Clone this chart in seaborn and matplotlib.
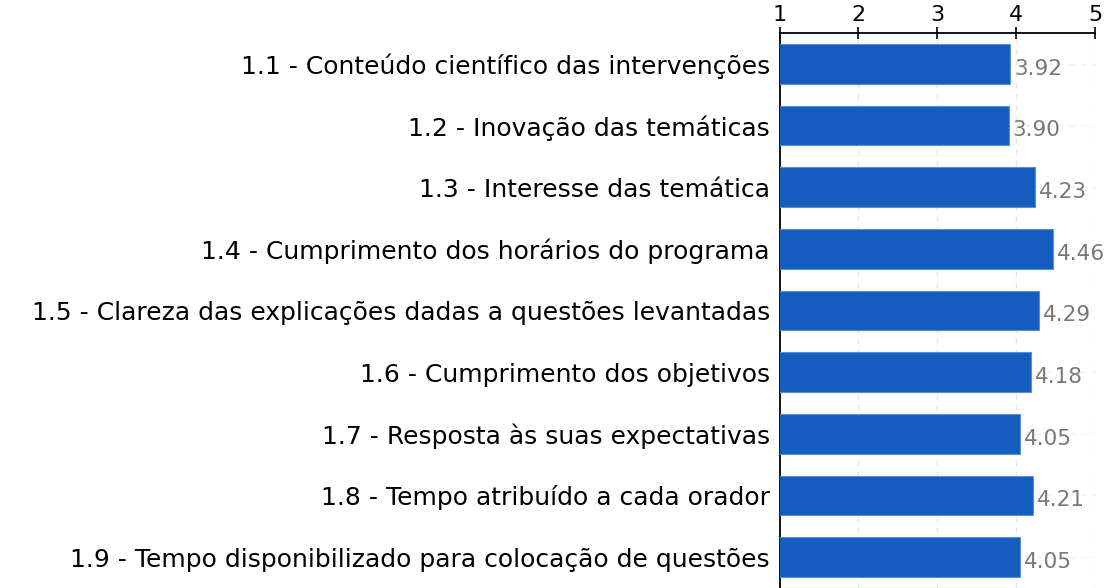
import matplotlib
matplotlib.use("Agg")
import matplotlib.pyplot as plt
import pandas as pd
import seaborn as sns

labels = [
    "1.1 - Conteúdo científico das intervenções",
    "1.2 - Inovação das temáticas",
    "1.3 - Interesse das temática",
    "1.4 - Cumprimento dos horários do programa",
    "1.5 - Clareza das explicações dadas a questões levantadas",
    "1.6 - Cumprimento dos objetivos",
    "1.7 - Resposta às suas expectativas",
    "1.8 - Tempo atribuído a cada orador",
    "1.9 - Tempo disponibilizado para colocação de questões",
]
values = [3.92, 3.90, 4.23, 4.46, 4.29, 4.18, 4.05, 4.21, 4.05]
ticks = [1, 2, 3, 4, 5]

df = pd.DataFrame({"item": labels, "score": values})

sns.set_style("white")
plt.rcParams["font.family"] = ["DejaVu Sans"]

fig = plt.figure(figsize=(11.2, 5.88), dpi=100)
ax = fig.add_axes([0.696, 0.0, 0.282, 0.944])

sns.barplot(data=df, x="score", y="item", orient="h", color="#145dbf",
            saturation=1, width=0.64, edgecolor="#5a8fd8", linewidth=0.8,
            ax=ax, zorder=3)

ax.set_xlim(1, 5)
ax.set_ylim(len(labels) - 0.5, -0.5)
ax.set_xticks(ticks)
ax.set_xticklabels([str(t) for t in ticks])
ax.xaxis.tick_top()
ax.set_xlabel("")
ax.set_ylabel("")

ax.grid(True, axis="x", linestyle=(0, (4, 4)), color="#e6e6e6", linewidth=1, zorder=0)
ax.grid(True, axis="y", linestyle=(0, (4, 4)), color="#f0f0f0", linewidth=1, zorder=0)

for s in ["right", "bottom"]:
    ax.spines[s].set_visible(False)
ax.spines["left"].set_color("black")
ax.spines["top"].set_color("black")
ax.spines["left"].set_linewidth(1.3)
ax.spines["top"].set_linewidth(1.3)

ax.tick_params(axis="x", direction="inout", length=8, width=1.2, labelsize=16, pad=2, colors="black")
ax.tick_params(axis="y", direction="out", length=5, width=1.2, labelsize=18, pad=2, colors="black")

for i, v in enumerate(values):
    ax.text(v + 0.05, i + 0.08, f"{v:.2f}", va="center", ha="left",
            fontsize=15.5, color="#777777", zorder=4)

fig.savefig("out.png", dpi=100)
